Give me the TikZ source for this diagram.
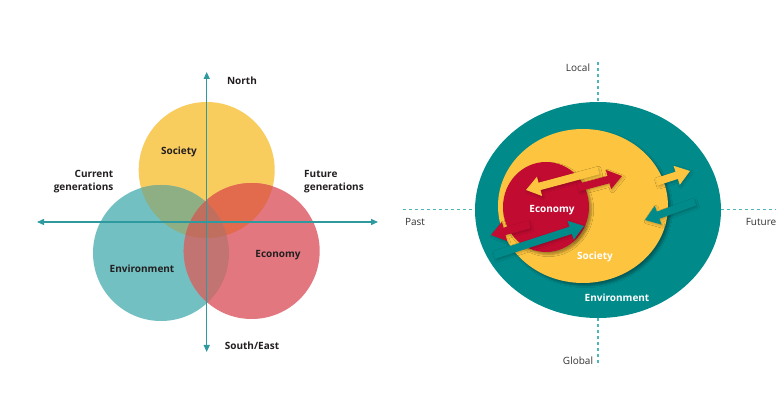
\documentclass[tikz,border=0pt]{standalone}
\usepackage{fontspec}
\setmainfont{Open Sans}
\usetikzlibrary{arrows.meta,shadows.blur}
\definecolor{socY}{HTML}{F9CC5E}
\definecolor{envT}{HTML}{72C0C2}
\definecolor{ecoR}{HTML}{E37780}
\definecolor{socEnv}{HTML}{8DAF83}
\definecolor{socEco}{HTML}{E26A4D}
\definecolor{envEco}{HTML}{C27473}
\definecolor{allThree}{HTML}{C06E5E}
\definecolor{axisC}{HTML}{2E9AA0}
\definecolor{txtC}{HTML}{231F20}
\definecolor{envD}{HTML}{008A8A}
\definecolor{socD}{HTML}{FDC43F}
\definecolor{ecoD}{HTML}{C20B31}
\definecolor{dashC}{HTML}{4DB6B8}
\definecolor{grayT}{HTML}{333333}
\newcommand\bigarrow[4]{%
  \fill[#1, shift={#2}, rotate=#3] (0,0) -- (-14,10) -- (-14,3.8) -- (-#4,3.8) -- (-#4,-3.8) -- (-14,-3.8) -- (-14,-10) -- cycle;}
\begin{document}
\begin{tikzpicture}[x=1pt,y=-1pt,
  axis/.style={draw=axisC, line width=1.3pt, {Triangle[length=7pt,width=6pt]}-{Triangle[length=7pt,width=6pt]}},
  lbl/.style={font=\fontsize{10}{13}\selectfont\bfseries, text=txtC, inner sep=0pt},
  rlbl/.style={font=\fontsize{10}{12}\selectfont, text=grayT, inner sep=0pt},
  wlbl/.style={font=\fontsize{10}{12}\selectfont\bfseries, text=white, inner sep=0pt},
  dashline/.style={draw=dashC, line width=1.4pt, dash pattern=on 3pt off 3pt},
  shad/.style={blur shadow={shadow xshift=2.5pt, shadow yshift=-2.5pt, shadow blur steps=6, shadow opacity=35}},
  ashad/.style={blur shadow={shadow xshift=1.2pt, shadow yshift=-1.5pt, shadow blur steps=3, shadow opacity=22}}]
\useasboundingbox (0,0) rectangle (784,411);
\fill[white] (0,0) rectangle (784,411);
% ---------- left diagram ----------
\coordinate (cS) at (206.7,170);
\coordinate (cEnv) at (161,253);
\coordinate (cEco) at (251.7,251);
\fill[socY] (cS) circle[radius=68];
\fill[envT] (cEnv) circle[radius=68];
\fill[ecoR] (cEco) circle[radius=68];
\begin{scope}
  \clip (cS) circle[radius=68];
  \fill[socEnv] (cEnv) circle[radius=68];
  \fill[socEco] (cEco) circle[radius=68];
\end{scope}
\begin{scope}
  \clip (cEnv) circle[radius=68];
  \fill[envEco] (cEco) circle[radius=68];
  \clip (cS) circle[radius=68];
  \fill[allThree] (cEco) circle[radius=68];
\end{scope}
\coordinate (axN) at (206.7,72);
\coordinate (axS) at (206.7,352);
\coordinate (axW) at (37,222);
\coordinate (axE) at (378,222);
\draw[axis] (axS) -- (axN);
\draw[axis] (axW) -- (axE);
\node[lbl] (north) at (242,81) {North};
\node[lbl] (south) at (252,346) {South/East};
\node[lbl, align=right, anchor=east] (curr) at (113.5,181.5) {Current\\generations};
\node[lbl, align=left, anchor=west] (fut) at (304,181.5) {Future\\generations};
\node[lbl] (lsoc) at (179,152) {Society};
\node[lbl] (lenv) at (142,269) {Environment};
\node[lbl] (leco) at (278,255) {Economy};
% ---------- right diagram ----------
\coordinate (dTop) at (598,62);
\coordinate (dTopE) at (598,102);
\coordinate (dBot) at (598,366);
\coordinate (dBotE) at (598,318);
\coordinate (dLeft) at (403,209.5);
\coordinate (dLeftE) at (475,209.5);
\coordinate (dRight) at (776,209.5);
\coordinate (dRightE) at (721,209.5);
\draw[dashline] (dTop) -- (dTopE);
\draw[dashline] (dBotE) -- (dBot);
\draw[dashline] (dLeft) -- (dLeftE);
\draw[dashline] (dRightE) -- (dRight);
\fill[envD] (598,210) ellipse[x radius=123, y radius=108];
\fill[socD, shad] (583,206) ellipse[x radius=85, y radius=77];
\fill[ecoD, shad] (546,207) ellipse[x radius=43, y radius=45];
\bigarrow{socD, ashad}{(526,190)}{195}{75}
\bigarrow{ecoD, ashad}{(622,176)}{15}{45}
\bigarrow{ecoD, ashad}{(491,235)}{195}{40}
\bigarrow{envD, ashad}{(584,226)}{18}{94}
\bigarrow{socD, ashad}{(690,171)}{18}{35}
\bigarrow{envD, ashad}{(645,220)}{200}{53}
\node[wlbl] (reco) at (552,210) {Economy};
\node[wlbl] (rsoc) at (595,257) {Society};
\node[wlbl] (renv) at (617,298) {Environment};
\node[rlbl] (local) at (578,68) {Local};
\node[rlbl] (global) at (578,361) {Global};
\node[rlbl] (past) at (415,222) {Past};
\node[rlbl] (future) at (761,222) {Future};
\end{tikzpicture}
\end{document}
